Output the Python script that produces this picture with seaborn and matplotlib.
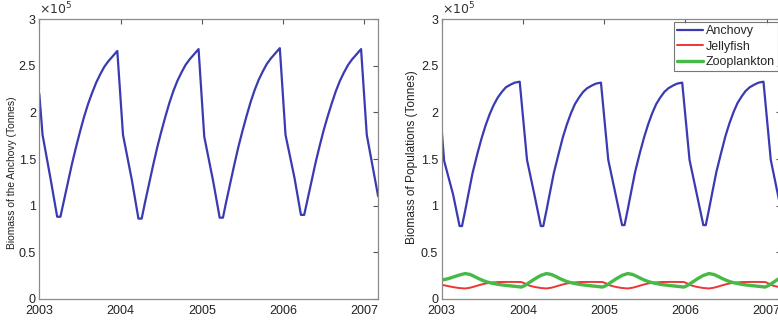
import numpy as np
import pandas as pd
import matplotlib
matplotlib.use("Agg")
import matplotlib.pyplot as plt
import seaborn as sns

# ---------------- data (biomass in units of 1e5 tonnes) ----------------
# Left panel: anchovy only
left_t_2003 = [2003.00, 2003.04, 2003.14, 2003.22, 2003.26, 2003.30, 2003.35, 2003.40, 2003.45, 2003.50,
               2003.55, 2003.60, 2003.65, 2003.70, 2003.75, 2003.80, 2003.85, 2003.90, 2003.96]
left_v_2003 = [2.20, 1.76, 1.28, 0.88, 0.88, 1.04, 1.24, 1.44, 1.62, 1.79,
               1.95, 2.09, 2.21, 2.32, 2.41, 2.49, 2.55, 2.60, 2.66]
left_t_2004 = [2004.03, 2004.14, 2004.22, 2004.26, 2004.30, 2004.35, 2004.40, 2004.45, 2004.50,
               2004.55, 2004.60, 2004.65, 2004.70, 2004.75, 2004.80, 2004.85, 2004.90, 2004.96]
left_v_2004 = [1.76, 1.27, 0.86, 0.86, 1.03, 1.23, 1.43, 1.62, 1.79,
               1.95, 2.10, 2.23, 2.34, 2.43, 2.51, 2.57, 2.62, 2.68]
left_t_2005 = [2005.03, 2005.14, 2005.22, 2005.26, 2005.30, 2005.35, 2005.40, 2005.45, 2005.50,
               2005.55, 2005.60, 2005.65, 2005.70, 2005.75, 2005.80, 2005.85, 2005.90, 2005.96]
left_v_2005 = [1.74, 1.26, 0.87, 0.87, 1.04, 1.24, 1.44, 1.63, 1.80,
               1.96, 2.11, 2.24, 2.35, 2.44, 2.52, 2.58, 2.63, 2.69]
left_t_2006 = [2006.03, 2006.14, 2006.22, 2006.26, 2006.30, 2006.35, 2006.40, 2006.45, 2006.50,
               2006.55, 2006.60, 2006.65, 2006.70, 2006.75, 2006.80, 2006.85, 2006.90, 2006.96]
left_v_2006 = [1.76, 1.30, 0.90, 0.90, 1.06, 1.26, 1.46, 1.64, 1.81,
               1.96, 2.10, 2.23, 2.34, 2.43, 2.51, 2.57, 2.62, 2.68]
left_t_2007 = [2007.03, 2007.17]
left_v_2007 = [1.76, 1.10]

# Right panel: anchovy
r_anch_t_2003 = [2003.00, 2003.03, 2003.14, 2003.22, 2003.25, 2003.29, 2003.33, 2003.38, 2003.44, 2003.49,
                 2003.54, 2003.59, 2003.64, 2003.69, 2003.74, 2003.79, 2003.85, 2003.90, 2003.96]
r_anch_v_2003 = [1.81, 1.48, 1.12, 0.78, 0.78, 0.95, 1.13, 1.35, 1.56, 1.72,
                 1.86, 1.98, 2.08, 2.16, 2.22, 2.27, 2.30, 2.32, 2.33]
r_anch_t_2004 = [2004.05, 2004.14, 2004.22, 2004.25, 2004.29, 2004.33, 2004.38, 2004.44, 2004.49,
                 2004.54, 2004.59, 2004.64, 2004.69, 2004.74, 2004.79, 2004.85, 2004.90, 2004.96]
r_anch_v_2004 = [1.49, 1.12, 0.78, 0.78, 0.95, 1.13, 1.35, 1.56, 1.73,
                 1.87, 1.99, 2.09, 2.16, 2.22, 2.26, 2.29, 2.31, 2.32]
r_anch_t_2005 = [2005.05, 2005.14, 2005.22, 2005.25, 2005.29, 2005.33, 2005.38, 2005.44, 2005.49,
                 2005.54, 2005.59, 2005.64, 2005.69, 2005.74, 2005.79, 2005.85, 2005.90, 2005.96]
r_anch_v_2005 = [1.49, 1.12, 0.79, 0.79, 0.96, 1.14, 1.36, 1.57, 1.73,
                 1.87, 1.99, 2.09, 2.16, 2.22, 2.26, 2.29, 2.31, 2.32]
r_anch_t_2006 = [2006.05, 2006.14, 2006.22, 2006.25, 2006.29, 2006.33, 2006.38, 2006.44, 2006.49,
                 2006.54, 2006.59, 2006.64, 2006.69, 2006.74, 2006.79, 2006.85, 2006.90, 2006.96]
r_anch_v_2006 = [1.49, 1.12, 0.79, 0.79, 0.96, 1.14, 1.36, 1.57, 1.74,
                 1.88, 2.00, 2.10, 2.17, 2.23, 2.27, 2.30, 2.32, 2.33]
r_anch_t_2007 = [2007.05, 2007.17]
r_anch_v_2007 = [1.49, 0.98]

# Right panel: jellyfish and zooplankton (shared time points)
small_t_2003 = [2003.00, 2003.08, 2003.15, 2003.22, 2003.29, 2003.35, 2003.40, 2003.45, 2003.50,
                2003.55, 2003.60, 2003.70, 2003.80, 2003.90, 2003.98]
small_t_2004 = [2004.02, 2004.08, 2004.15, 2004.22, 2004.29, 2004.35, 2004.40, 2004.45, 2004.50,
                2004.55, 2004.60, 2004.70, 2004.80, 2004.90, 2004.98]
small_t_2005 = [2005.02, 2005.08, 2005.15, 2005.22, 2005.29, 2005.35, 2005.40, 2005.45, 2005.50,
                2005.55, 2005.60, 2005.70, 2005.80, 2005.90, 2005.98]
small_t_2006 = [2006.02, 2006.08, 2006.15, 2006.22, 2006.29, 2006.35, 2006.40, 2006.45, 2006.50,
                2006.55, 2006.60, 2006.70, 2006.80, 2006.90, 2006.98]
small_t_2007 = [2007.02, 2007.08, 2007.15, 2007.17]

jelly_2003 = [0.150, 0.135, 0.123, 0.114, 0.110, 0.118, 0.130, 0.143, 0.155, 0.165, 0.172, 0.179, 0.180, 0.180, 0.179]
jelly_2004 = [0.165, 0.140, 0.125, 0.115, 0.110, 0.118, 0.130, 0.143, 0.155, 0.165, 0.172, 0.179, 0.180, 0.180, 0.179]
jelly_2005 = [0.165, 0.140, 0.125, 0.115, 0.110, 0.118, 0.130, 0.143, 0.155, 0.165, 0.172, 0.179, 0.180, 0.180, 0.179]
jelly_2006 = [0.165, 0.140, 0.125, 0.115, 0.110, 0.118, 0.130, 0.143, 0.155, 0.165, 0.172, 0.179, 0.180, 0.180, 0.179]
jelly_2007 = [0.165, 0.140, 0.125, 0.122]

zoo_2003 = [0.200, 0.215, 0.235, 0.255, 0.270, 0.260, 0.240, 0.218, 0.198, 0.182, 0.170, 0.153, 0.142, 0.133, 0.125]
zoo_2004 = [0.140, 0.175, 0.215, 0.250, 0.270, 0.260, 0.240, 0.218, 0.198, 0.182, 0.170, 0.153, 0.142, 0.133, 0.125]
zoo_2005 = [0.140, 0.175, 0.215, 0.250, 0.270, 0.260, 0.240, 0.218, 0.198, 0.182, 0.170, 0.153, 0.142, 0.133, 0.125]
zoo_2006 = [0.140, 0.175, 0.215, 0.250, 0.270, 0.260, 0.240, 0.218, 0.198, 0.182, 0.170, 0.153, 0.142, 0.133, 0.125]
zoo_2007 = [0.140, 0.175, 0.215, 0.225]

year_ticks = [2003, 2004, 2005, 2006, 2007]
y_ticks = [0, 0.5, 1, 1.5, 2, 2.5, 3]
y_tick_labels = ["0", "0.5", "1", "1.5", "2", "2.5", "3"]
series_names = ["Anchovy", "Jellyfish", "Zooplankton"]
colors = {"Anchovy": "#3a3ab2", "Jellyfish": "#ef3535", "Zooplankton": "#46b946"}
widths = {"Anchovy": 1.6, "Jellyfish": 1.4, "Zooplankton": 2.4}

left_t = left_t_2003 + left_t_2004 + left_t_2005 + left_t_2006 + left_t_2007
left_anchovy = left_v_2003 + left_v_2004 + left_v_2005 + left_v_2006 + left_v_2007
right_t_anch = r_anch_t_2003 + r_anch_t_2004 + r_anch_t_2005 + r_anch_t_2006 + r_anch_t_2007
right_anchovy = r_anch_v_2003 + r_anch_v_2004 + r_anch_v_2005 + r_anch_v_2006 + r_anch_v_2007
right_t_small = small_t_2003 + small_t_2004 + small_t_2005 + small_t_2006 + small_t_2007
jellyfish = jelly_2003 + jelly_2004 + jelly_2005 + jelly_2006 + jelly_2007
zooplankton = zoo_2003 + zoo_2004 + zoo_2005 + zoo_2006 + zoo_2007

# ---------------- figure ----------------
sns.set_style("white")
plt.rcParams["font.family"] = ["Liberation Sans", "DejaVu Sans"]
fig = plt.figure(figsize=(7.78, 3.22), dpi=100)
W, H = 778.0, 322.0
ax1 = fig.add_axes([39.3 / W, 23.3 / H, 339.0 / W, 279.4 / H])
ax2 = fig.add_axes([441.7 / W, 23.3 / H, 339.0 / W, 279.4 / H])

df_left = pd.DataFrame({"t": left_t, "v": left_anchovy})
sns.lineplot(data=df_left, x="t", y="v", ax=ax1, color=colors["Anchovy"], lw=widths["Anchovy"])

df_r = pd.concat([
    pd.DataFrame({"t": right_t_anch, "v": right_anchovy, "s": "Anchovy"}),
    pd.DataFrame({"t": right_t_small, "v": jellyfish, "s": "Jellyfish"}),
    pd.DataFrame({"t": right_t_small, "v": zooplankton, "s": "Zooplankton"}),
])
for name in series_names:
    sub = df_r[df_r["s"] == name]
    sns.lineplot(data=sub, x="t", y="v", ax=ax2, color=colors[name], lw=widths[name], label=name)

panels = [(ax1, "Biomass of the Anchovy (Tonnes)", 7.4, (-0.066, 0.45)),
          (ax2, "Biomass of Populations (Tonnes)", 8.6, (-0.070, 0.505))]
for ax, lab, lsize, lcoords in panels:
    ax.set_xlim(2003, 2007.172)
    ax.set_ylim(0, 3)
    ax.set_xticks(year_ticks)
    ax.set_xticklabels([str(y) for y in year_ticks])
    ax.set_yticks(y_ticks)
    ax.set_yticklabels(y_tick_labels)
    ax.set_xlabel("")
    ax.set_ylabel(lab, fontsize=lsize, color="#222222")
    ax.yaxis.set_label_coords(*lcoords)
    ax.tick_params(direction="in", length=3.5, width=0.8, color="#555555", labelsize=9,
                   labelcolor="#222222", top=True, right=True)
    ax.tick_params(axis="x", pad=4.5)
    ax.tick_params(axis="y", pad=2.5)
    for sp in ax.spines.values():
        sp.set_color("#8a8a8a")
        sp.set_linewidth(0.9)
        sp.set_visible(True)
    ax.text(0.0, 1.006, r"$\times10^5$", transform=ax.transAxes, fontsize=9, color="#333333",
            ha="left", va="bottom")

leg = ax2.legend(loc="upper right", bbox_to_anchor=(0.9915, 0.99), fontsize=9, frameon=True,
                 fancybox=False, borderpad=0.25, labelspacing=0.28, handlelength=2.1,
                 handletextpad=0.2, borderaxespad=0.0)
leg.get_frame().set_edgecolor("#555555")
leg.get_frame().set_linewidth(0.8)

fig.savefig("out.png", dpi=100)
